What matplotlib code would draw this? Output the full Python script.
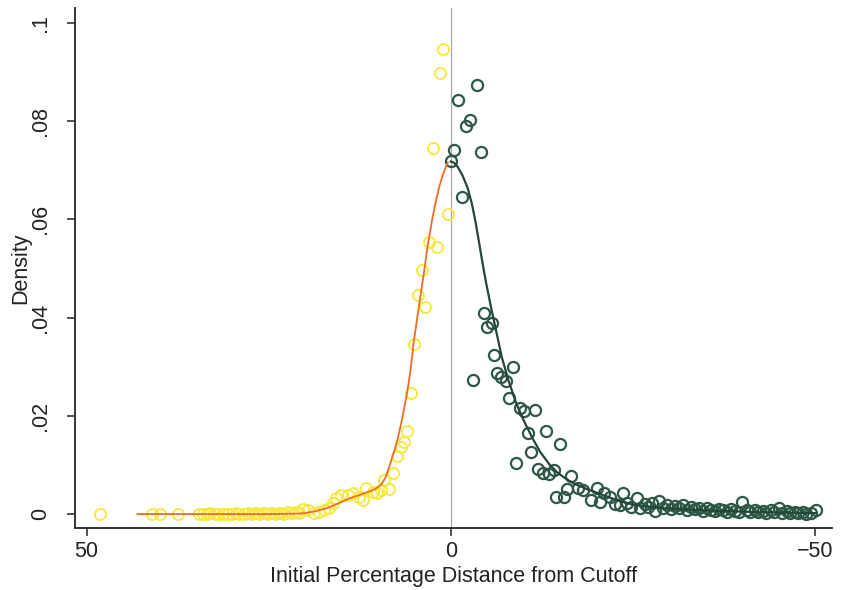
import matplotlib
matplotlib.use("Agg")
import matplotlib.pyplot as plt

plt.rcParams['font.family'] = ['Liberation Sans', 'DejaVu Sans']

# binned densities above the cutoff (x > 0)
above_x = [48.1, 41.0, 39.9, 37.4, 34.5, 34.0, 33.5, 33.0, 32.4, 31.9, 31.3, 30.6,
           30.0, 29.5, 29.0, 28.4, 27.9, 27.3, 26.8, 26.3, 25.7, 25.1, 24.6, 24.0,
           23.5, 22.9, 22.4, 21.8, 21.3, 20.8, 20.3, 19.6, 18.8, 18.1, 17.4, 16.7,
           16.2, 15.8, 15.1, 14.1, 13.4, 12.6, 12.1, 11.6, 10.7, 10.1, 9.6, 9.2,
           8.5, 7.9, 7.4, 6.8, 6.4, 6.0, 5.5, 5.1, 4.5, 4.0, 3.6, 3.0, 2.5, 1.9,
           1.5, 1.0, 0.4]
above_y = [0.0, 0.0, 0.0, 0.0, 0.0, 0.0001, 0.0, 0.0002, 0.0, 0.0001, 0.0, 0.0001,
           0.0, 0.0002, 0.0001, 0.0, 0.0003, 0.0001, 0.0002, 0.0, 0.0003, 0.0001, 0.0002, 0.0,
           0.0003, 0.0001, 0.0004, 0.0002, 0.0005, 0.0003, 0.0010, 0.0008, 0.0002, 0.0004, 0.0008, 0.0012,
           0.0022, 0.0033, 0.0039, 0.0039, 0.0043, 0.0035, 0.0028, 0.0053, 0.0045, 0.0042, 0.0049, 0.0069,
           0.0051, 0.0084, 0.0118, 0.0136, 0.0147, 0.0169, 0.0246, 0.0346, 0.0446, 0.0496, 0.0421, 0.0553,
           0.0745, 0.0543, 0.0899, 0.0948, 0.0612]

# binned densities below the cutoff (x < 0)
below_x = [0.0, -0.5, -1.0, -1.6, -2.1, -2.6, -3.0, -3.6, -4.1, -4.5, -5.0, -5.6,
           -6.0, -6.4, -6.9, -7.6, -8.0, -8.6, -9.0, -9.5, -10.0, -10.6, -11.0, -11.6,
           -12.0, -12.7, -13.1, -13.5, -14.2, -14.5, -15.0, -15.5, -16.0, -16.5, -17.4, -18.2,
           -19.2, -20.1, -20.5, -21.0, -21.9, -22.5, -23.2, -23.6, -24.2, -24.8, -25.5, -26.0,
           -26.6, -27.1, -27.6, -28.0, -28.6, -29.1, -29.7, -30.2, -30.8, -31.3, -31.9, -32.4,
           -33.0, -33.5, -34.1, -34.6, -35.2, -35.7, -36.3, -36.8, -37.4, -37.9, -38.5, -39.0,
           -39.6, -40.0, -40.6, -41.1, -41.7, -42.2, -42.8, -43.3, -43.9, -44.4, -45.0, -45.5,
           -46.1, -46.6, -47.2, -47.7, -48.3, -48.8, -49.4, -50.1]
below_y = [0.0718, 0.0741, 0.0844, 0.0645, 0.0791, 0.0802, 0.0274, 0.0873, 0.0737, 0.0410, 0.0380, 0.0389,
           0.0324, 0.0287, 0.0279, 0.0271, 0.0236, 0.0299, 0.0104, 0.0216, 0.0209, 0.0165, 0.0126, 0.0212,
           0.0092, 0.0084, 0.0169, 0.0081, 0.0090, 0.0035, 0.0142, 0.0035, 0.0051, 0.0077, 0.0053, 0.0049,
           0.0028, 0.0054, 0.0024, 0.0043, 0.0035, 0.0020, 0.0018, 0.0043, 0.0022, 0.0015, 0.0032, 0.0012,
           0.0020, 0.0014, 0.0022, 0.0006, 0.0026, 0.0013, 0.0018, 0.0010, 0.0016, 0.0012, 0.0018, 0.0008,
           0.0014, 0.0010, 0.0013, 0.0007, 0.0012, 0.0009, 0.0006, 0.0011, 0.0008, 0.0005, 0.0010, 0.0007,
           0.0004, 0.0024, 0.0008, 0.0005, 0.0009, 0.0004, 0.0007, 0.0003, 0.0008, 0.0004, 0.0012, 0.0003,
           0.0006, 0.0002, 0.0005, 0.0002, 0.0004, 0.0001, 0.0003, 0.0008]

# fitted densities on each side
fit_above_x = [43.0, 35.0, 25.0, 21.0, 20.0, 18.5, 17.0, 16.0, 14.8, 13.7, 12.5, 11.4,
               10.5, 9.6, 9.0, 8.5, 7.8, 7.3, 6.8, 6.4, 6.0, 5.5, 5.1, 4.6,
               4.1, 3.6, 3.2, 2.5, 2.0, 1.6, 1.0, 0.4]
fit_above_y = [0.0, 0.0, 0.0, 0.0001, 0.0002, 0.0006, 0.0012, 0.0018, 0.0026, 0.0033, 0.0039, 0.0045,
               0.0050, 0.0059, 0.0073, 0.0094, 0.0126, 0.0152, 0.0185, 0.0215, 0.0246, 0.0295, 0.0348, 0.0400,
               0.0450, 0.0500, 0.0543, 0.0604, 0.0640, 0.0665, 0.0695, 0.0716]
fit_below_x = [0.0, -0.5, -1.0, -1.6, -2.3, -2.9, -3.4, -3.9, -4.4, -4.8, -5.5, -6.2,
               -7.0, -7.9, -9.0, -10.0, -11.2, -12.3, -13.5, -14.6, -15.7, -16.8, -18.5, -20.1,
               -22.5, -25.0, -29.0, -34.0, -42.0, -50.0]
fit_below_y = [0.0718, 0.0715, 0.0706, 0.0690, 0.0665, 0.0632, 0.0595, 0.0552, 0.0508, 0.0475, 0.0423, 0.0375,
               0.0320, 0.0273, 0.0225, 0.0191, 0.0155, 0.0126, 0.0102, 0.0085, 0.0073, 0.0063, 0.0052, 0.0043,
               0.0030, 0.0019, 0.0012, 0.0008, 0.0004, 0.0002]

fig = plt.figure(figsize=(8.41, 5.9), dpi=100)
ax = fig.add_axes([0.089, 0.105, 0.9, 0.881])

ax.axvline(0, color='#a8a8a8', lw=0.9, zorder=1)
ax.plot(above_x, above_y, 'o', ms=8, mfc='none', mec='#f6e83a', mew=1.3, zorder=2)
ax.plot(below_x, below_y, 'o', ms=8, mfc='none', mec='#2e5846', mew=1.6, zorder=2)
ax.plot(fit_above_x, fit_above_y, '-', color='#f06a28', lw=1.3, zorder=3)
ax.plot(fit_below_x, fit_below_y, '-', color='#24453a', lw=1.6, zorder=3)

ax.set_xlim(51.6, -52.3)
ax.set_ylim(-0.00285, 0.103)
ax.set_xticks([50, 0, -50])
ax.set_xticklabels(['50', '0', '\u221250'])
ax.set_yticks([0, 0.02, 0.04, 0.06, 0.08, 0.1])
ax.set_yticklabels(['0', '.02', '.04', '.06', '.08', '.1'], rotation=90, va='center')
ax.tick_params(labelsize=15.5, length=6, width=1.2, color='#333333', labelcolor='#222222')
ax.tick_params(axis='y', pad=11)
ax.set_xlabel('Initial Percentage Distance from Cutoff', fontsize=15.5, color='#222222', labelpad=3)
ax.set_ylabel('Density', fontsize=15.5, color='#222222')
ax.yaxis.set_label_coords(-0.058, 0.5)

for s in ['top', 'right']:
    ax.spines[s].set_visible(False)
for s in ['left', 'bottom']:
    ax.spines[s].set_linewidth(1.4)
    ax.spines[s].set_color('#333333')

fig.savefig('out.png', dpi=100)
